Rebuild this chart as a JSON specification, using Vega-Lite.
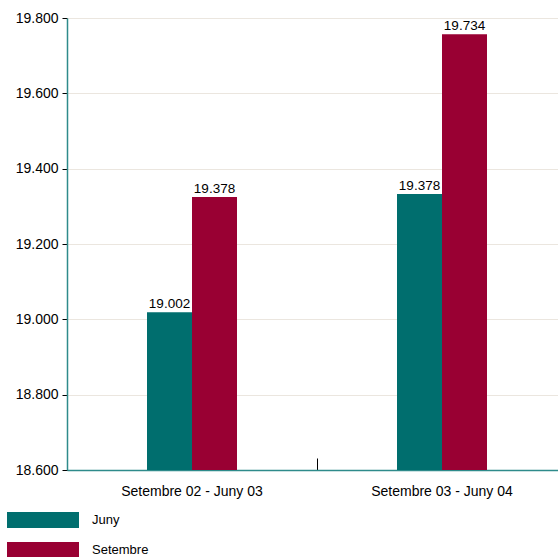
{
  "$schema": "https://vega.github.io/schema/vega-lite/v6.json",
  "autosize": "none",
  "width": 491,
  "height": 452,
  "padding": {"left": 67, "top": 18, "right": 0, "bottom": 87},
  "background": "white",
  "config": {
    "locale": {"number": {"decimal": ",", "thousands": ".", "grouping": [3], "currency": ["", " €"]}},
    "view": {"stroke": null},
    "font": "Liberation Sans"
  },
  "data": {
    "values": [
      {"period": "Setembre 02 - Juny 03", "series": "Juny", "value": 19019, "label": 19002},
      {"period": "Setembre 02 - Juny 03", "series": "Setembre", "value": 19325, "label": 19378},
      {"period": "Setembre 03 - Juny 04", "series": "Juny", "value": 19333, "label": 19378},
      {"period": "Setembre 03 - Juny 04", "series": "Setembre", "value": 19757, "label": 19734}
    ]
  },
  "encoding": {
    "x": {
      "field": "period", "type": "nominal", "sort": null,
      "scale": {"range": [0, 500], "paddingInner": 0, "paddingOuter": 0},
      "axis": {
        "title": null, "labelAngle": 0, "bandPosition": 0,
        "domainColor": "#2e8b8b", "domainWidth": 1.5,
        "tickColor": "#000000", "tickSize": -12, "labelPadding": 26,
        "labelFontSize": 14, "labelColor": "#000000", "grid": false
      }
    },
    "xOffset": {
      "field": "series", "type": "nominal",
      "scale": {"range": [80, 170], "paddingInner": 0, "paddingOuter": 0}
    },
    "y": {
      "field": "value", "type": "quantitative",
      "scale": {"domain": [18600, 19800], "nice": false, "zero": false},
      "axis": {
        "title": null,
        "values": [18600, 18800, 19000, 19200, 19400, 19600, 19800],
        "format": ",.0f",
        "domainColor": "#2e8b8b", "domainWidth": 1.5,
        "tickColor": "#000000", "tickSize": 5,
        "labelFontSize": 14, "labelColor": "#000000", "labelPadding": 4,
        "gridColor": "#ebe6df", "gridWidth": 1
      }
    }
  },
  "layer": [
    {
      "mark": {"type": "bar", "stroke": null, "clip": true},
      "encoding": {
        "color": {
          "field": "series", "type": "nominal",
          "scale": {"domain": ["Juny", "Setembre"], "range": ["#006e6e", "#990033"]},
          "legend": {
            "title": null, "orient": "none", "legendX": -32, "legendY": 494,
            "symbolType": "M-4.5,-1L4.5,-1L4.5,1L-4.5,1Z",
            "symbolSize": 256, "symbolStrokeWidth": 0, "symbolOpacity": 1,
            "labelFontSize": 13, "labelColor": "#000000", "labelOffset": 41,
            "rowPadding": 14, "padding": 0
          }
        }
      }
    },
    {
      "mark": {"type": "text", "baseline": "alphabetic", "dy": -4, "fontSize": 13.5, "color": "#000000"},
      "encoding": {
        "text": {"field": "label", "type": "quantitative", "format": ",.0f"}
      }
    }
  ]
}
